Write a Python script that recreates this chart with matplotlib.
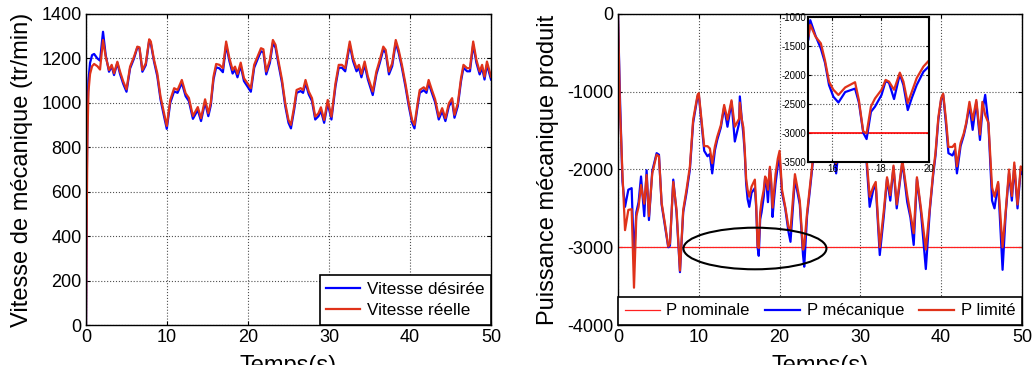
import matplotlib
matplotlib.use("Agg")
import matplotlib.pyplot as plt
from matplotlib.patches import Ellipse, Rectangle

plt.rcParams['font.family'] = ['Liberation Sans', 'DejaVu Sans']
plt.rcParams['axes.unicode_minus'] = False

# --- vitesse mecanique (left panel) ---
t_vit = [0.0, 0.08, 0.18, 0.3, 0.5, 0.75, 1.0, 1.4, 1.73, 2.1,
         2.43, 2.84, 3.17, 3.46, 3.87, 4.2, 4.6, 5.0, 5.44, 5.93,
         6.34, 6.6, 6.96, 7.38, 7.8, 8.0, 8.4, 8.8, 9.2, 9.6,
         9.97, 10.4, 10.88, 11.3, 11.83, 12.3, 12.7, 13.2, 13.8, 14.2,
         14.7, 15.1, 15.4, 15.74, 16.07, 16.48, 16.9, 17.3, 17.7, 18.1,
         18.4, 18.7, 19.1, 19.5, 20.06, 20.35, 20.76, 21.17, 21.6, 21.9,
         22.25, 22.7, 23.07, 23.4, 23.77, 24.2, 24.6, 25.0, 25.3, 25.7,
         26.0, 26.5, 26.8, 27.1, 27.5, 27.9, 28.3, 28.7, 29.0, 29.4,
         29.84, 30.3, 30.8, 31.2, 31.6, 32.0, 32.56, 32.97, 33.4, 33.7,
         34.0, 34.4, 34.8, 35.4, 35.85, 36.27, 36.7, 37.0, 37.4, 37.8,
         38.24, 38.6, 39.0, 39.43, 39.85, 40.26, 40.55, 40.88, 41.2, 41.7,
         42.03, 42.3, 42.7, 43.1, 43.55, 43.97, 44.37, 44.8, 45.2, 45.49,
         45.9, 46.3, 46.6, 47.05, 47.4, 47.8, 48.2, 48.6, 48.9, 49.2,
         49.5, 50.0]

vit_reelle = [0, 450, 850, 1050, 1130, 1165, 1175, 1165, 1150, 1283,
              1208, 1148, 1171, 1133, 1185, 1141, 1096, 1061, 1163, 1208,
              1253, 1250, 1148, 1178, 1286, 1276, 1193, 1133, 1028, 960,
              896, 1013, 1066, 1058, 1103, 1043, 1022, 941, 981, 931,
              1016, 953, 1000, 1118, 1175, 1171, 1156, 1276, 1201, 1148,
              1163, 1130, 1181, 1111, 1081, 1066, 1171, 1208, 1246, 1241,
              1141, 1193, 1283, 1261, 1186, 1103, 998, 923, 901, 983,
              1058, 1066, 1058, 1103, 1051, 1021, 938, 953, 980, 923,
              1013, 938, 1088, 1171, 1171, 1156, 1276, 1201, 1156, 1171,
              1130, 1186, 1118, 1051, 1141, 1193, 1253, 1238, 1141, 1178,
              1283, 1238, 1171, 1088, 998, 923, 901, 983, 1058, 1070,
              1058, 1103, 1058, 1016, 938, 976, 931, 998, 1021, 946,
              998, 1111, 1171, 1156, 1156, 1276, 1193, 1141, 1171, 1118,
              1186, 1118]

vit_desiree = [0, 600, 950, 1100, 1180, 1215, 1220, 1200, 1190, 1320,
               1215, 1140, 1165, 1125, 1180, 1130, 1085, 1050, 1155, 1200,
               1250, 1245, 1140, 1170, 1280, 1268, 1185, 1120, 1015, 945,
               883, 1000, 1052, 1045, 1090, 1030, 1008, 928, 968, 918,
               1003, 940, 988, 1105, 1160, 1155, 1138, 1262, 1188, 1132,
               1150, 1115, 1168, 1098, 1066, 1050, 1158, 1195, 1232, 1228,
               1128, 1180, 1270, 1248, 1172, 1090, 985, 910, 885, 970,
               1045, 1053, 1045, 1090, 1038, 1008, 925, 940, 965, 910,
               1000, 925, 1075, 1158, 1158, 1142, 1262, 1188, 1142, 1158,
               1115, 1172, 1105, 1035, 1128, 1180, 1240, 1225, 1128, 1165,
               1270, 1225, 1158, 1075, 985, 910, 885, 970, 1045, 1057,
               1045, 1090, 1045, 1003, 925, 963, 918, 985, 1008, 933,
               985, 1098, 1158, 1142, 1142, 1262, 1180, 1128, 1158, 1105,
               1172, 1105]

# --- puissance mecanique (right panel) ---
t_p = [0.0, 0.25, 0.55, 0.87, 1.28, 1.69, 1.98, 2.27, 2.55, 2.85,
       3.25, 3.54, 3.83, 4.24, 4.78, 5.07, 5.4, 5.8, 6.22, 6.43,
       6.84, 7.25, 7.67, 8.07, 8.48, 8.9, 9.3, 9.85, 10.0, 10.34,
       10.67, 11.08, 11.37, 11.66, 12.0, 12.28, 12.73, 13.14, 13.55, 14.05,
       14.46, 15.0, 15.08, 15.3, 15.52, 15.69, 15.86, 16.04, 16.25, 16.53,
       16.94, 17.1, 17.28, 17.42, 17.6, 17.77, 18.04, 18.21, 18.35, 18.56,
       18.8, 18.95, 19.13, 19.3, 19.5, 19.78, 20.0, 20.3, 20.7, 21.1,
       21.35, 21.9, 22.5, 22.9, 23.05, 23.4, 23.8, 24.2, 24.6, 25.15,
       25.3, 25.65, 26.0, 26.4, 26.7, 27.0, 27.3, 27.6, 28.0, 28.45,
       28.85, 29.35, 29.75, 30.3, 30.75, 31.15, 31.6, 31.9, 32.4, 32.9,
       33.3, 33.7, 34.1, 34.5, 35.2, 35.8, 36.2, 36.6, 37.0, 37.5,
       38.1, 38.6, 39.0, 39.3, 39.65, 40.0, 40.25, 40.6, 40.9, 41.4,
       41.7, 41.95, 42.4, 42.8, 43.1, 43.5, 43.9, 44.35, 44.8, 45.1,
       45.45, 45.85, 46.3, 46.6, 47.05, 47.6, 48.0, 48.4, 48.75, 49.05,
       49.45, 49.85, 50.0]

p_limite = [0, -1235, -2050, -2780, -2520, -2510, -3520, -2600, -2480, -2200,
            -2440, -2070, -2600, -2050, -1810, -1830, -2430, -2690, -2990, -2950,
            -2160, -2520, -3300, -2520, -2260, -1960, -1360, -1040, -1020, -1360,
            -1700, -1700, -1730, -1920, -1700, -1580, -1430, -1170, -1360, -1110,
            -1450, -1345, -1140, -1345, -1460, -1750, -2120, -2260, -2350, -2220,
            -2130, -2440, -2980, -3010, -2550, -2410, -2260, -2090, -2120, -2260,
            -1965, -2120, -2490, -2290, -2060, -1860, -1760, -2260, -2480, -2740,
            -2780, -2060, -2400, -3030, -2980, -2560, -2180, -1790, -1360, -1040,
            -1020, -1360, -1700, -1700, -1730, -1920, -1700, -1580, -1430, -1170,
            -1360, -1110, -1450, -1100, -1835, -2350, -2220, -2160, -3000, -2530,
            -2100, -2330, -1950, -2450, -1880, -2330, -2570, -2820, -2100, -2500,
            -3030, -2480, -2050, -1780, -1330, -1080, -1025, -1360, -1710, -1710,
            -1670, -1960, -1660, -1535, -1400, -1130, -1365, -1106, -1550, -1130,
            -1300, -1400, -2230, -2350, -2160, -3000, -2520, -2000, -2340, -1910,
            -2450, -1960, -2000]

p_meca = [0, -1100, -2150, -2480, -2260, -2240, -3150, -2550, -2420, -2090,
          -2600, -2010, -2650, -2020, -1790, -1810, -2450, -2720, -3000, -2980,
          -2130, -2560, -3320, -2550, -2300, -2000, -1400, -1060, -1040, -1400,
          -1760, -1830, -1800, -2050, -1750, -1620, -1460, -1200, -1450, -1130,
          -1640, -1400, -1060, -1330, -1550, -1790, -2180, -2380, -2480, -2300,
          -2240, -2480, -3000, -3110, -2640, -2550, -2350, -2110, -2140, -2420,
          -1990, -2180, -2610, -2400, -2180, -1950, -1860, -2300, -2500, -2800,
          -2930, -2120, -2450, -3100, -3250, -2600, -2220, -1820, -1400, -1060,
          -1040, -1400, -1760, -1830, -1800, -2050, -1750, -1620, -1460, -1200,
          -1450, -1130, -1640, -1060, -1880, -2480, -2260, -2200, -3100, -2600,
          -2120, -2400, -1970, -2500, -1900, -2420, -2620, -2970, -2120, -2550,
          -3280, -2520, -2080, -1820, -1360, -1100, -1040, -1420, -1790, -1820,
          -1750, -2050, -1700, -1560, -1420, -1180, -1490, -1130, -1620, -1250,
          -1040, -1420, -2400, -2500, -2180, -3290, -2550, -2050, -2400, -1950,
          -2500, -2000, -2050]

p_nominale = -3000

BLUE = '#0000ff'
RED = '#e0321a'
GRID = dict(color='#505050', linestyle=':', linewidth=0.8)

fig = plt.figure(figsize=(10.35, 3.74), dpi=100)

# left panel
ax1 = fig.add_axes([0.0831, 0.131, 0.3913, 0.8316])
ax1.plot(t_vit, vit_desiree, color=BLUE, lw=1.6, label='Vitesse désirée')
ax1.plot(t_vit, vit_reelle, color=RED, lw=1.6, label='Vitesse réelle')
ax1.set_xlim(0, 50)
ax1.set_ylim(0, 1400)
ax1.set_xticks(range(0, 51, 10))
ax1.set_yticks(range(0, 1401, 200))
ax1.grid(True, **GRID)
ax1.set_ylabel('Vitesse de mécanique (tr/min)', fontsize=17, labelpad=6)
ax1.set_xlabel('Temps(s)', fontsize=17, labelpad=6.5)
leg1 = ax1.legend(loc='lower right', borderaxespad=0, fancybox=False,
                  edgecolor='black', framealpha=1, fontsize=12.3,
                  handlelength=1.95, handletextpad=0.4, labelspacing=0.35)
leg1.get_frame().set_linewidth(1.2)

# right panel
ax2 = fig.add_axes([0.5971, 0.131, 0.3903, 0.8316])
ax2.axhline(p_nominale, color='#ff2020', lw=0.9, label='P nominale')
ax2.plot(t_p, p_meca, color=BLUE, lw=1.6, label='P mécanique')
ax2.plot(t_p, p_limite, color=RED, lw=1.6, label='P limité')
ax2.add_patch(Ellipse((16.95, -3016), 17.7, 535, fill=False, ec='black',
                      lw=1.5, zorder=5))
ax2.set_xlim(0, 50)
ax2.set_ylim(-4000, 0)
ax2.set_xticks(range(0, 51, 10))
ax2.set_yticks(range(-4000, 1, 1000))
ax2.grid(True, **GRID)
ax2.set_ylabel('Puissance mécanique produit', fontsize=17, labelpad=6)
ax2.set_xlabel('Temps(s)', fontsize=17, labelpad=6.5)
leg2 = ax2.legend(ncol=3, loc='lower left', bbox_to_anchor=(0, 0, 1, 0.1175),
                  mode='expand', borderaxespad=0, fancybox=False,
                  edgecolor='black', framealpha=1, fontsize=12,
                  handlelength=2.1, handletextpad=0.4, columnspacing=0.8)
leg2.get_frame().set_linewidth(1.2)
leg2.set_zorder(10)

for ax in (ax1, ax2):
    ax.tick_params(direction='in', top=True, right=True, length=3,
                   labelsize=13, pad=3)
    for s in ax.spines.values():
        s.set_linewidth(1.0)

# zoom inset
axi = fig.add_axes([0.781, 0.5677, 0.1163, 0.3877], zorder=5)
axi.axhline(p_nominale, color='#ff0000', lw=1.2)
axi.plot(t_p, p_meca, color=BLUE, lw=1.6)
axi.plot(t_p, p_limite, color=RED, lw=1.6)
axi.set_xlim(15, 20)
axi.set_ylim(-3500, -1000)
axi.set_xticks([16, 18, 20])
axi.set_yticks(range(-3500, -999, 500))
axi.grid(True, **GRID)
axi.tick_params(direction='in', top=True, right=True, length=2,
                labelsize=7, pad=1.5)
for s in axi.spines.values():
    s.set_linewidth(1.5)

# the original picture is cut off just under the x labels
fig.patches.append(Rectangle((0, 0), 1, 9 / 374, transform=fig.transFigure,
                             facecolor='white', edgecolor='none', zorder=100))

fig.savefig('out.png', dpi=100)
